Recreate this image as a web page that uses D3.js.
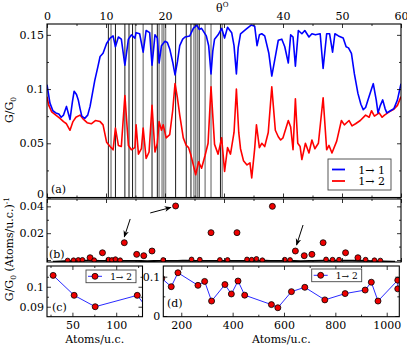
<!DOCTYPE html>
<html>
<head>
<meta charset="utf-8">
<script src="https://cdn.jsdelivr.net/npm/d3@7"></script>
<style>
  body { margin: 0; background: #fff; }
  text { font-family: 'DejaVu Serif', serif; font-size: 11px; fill: #000; }
</style>
</head>
<body>
<div id="graf"></div>
<script>
// I. Datos
// panel (a): conductancia vs angulo
var thetaBlue = [0, 0.5, 1, 1.5, 2, 2.4, 2.8, 3.3, 3.6, 3.9, 4.3, 4.6, 5, 5.3, 5.6, 5.9, 6.4, 6.9, 7.3, 7.7,
  8.1, 8.6, 9, 9.5, 10.1, 10.7, 11.2, 11.6, 12.1, 12.6, 13.2, 13.8, 14.3, 14.9, 15.1, 15.7, 16.3, 16.8, 17.4, 17.8,
  18.3, 18.7, 19, 19.4, 20, 20.4, 20.8, 21.3, 21.7, 22.1, 22.5, 23, 23.4, 24.2, 24.8, 25.4, 25.8, 26.2, 27, 27.4,
  27.8, 28.1, 28.4, 29, 29.6, 30.1, 30.6, 31.3, 31.7, 32.1, 32.4, 32.8, 33.7, 34.6, 35.2, 35.6, 36, 36.4, 36.9, 37.6,
  38.1, 38.7, 39.2, 39.8, 40.3, 40.9, 41.3, 41.7, 42.1, 42.6, 43.2, 43.7, 44.4, 44.9, 45.5, 46.3, 46.8, 47.4, 47.9, 48.4,
  48.8, 49.4, 50.2, 50.7, 51.1, 51.6, 52.1, 52.7, 53.2, 53.6, 54, 54.4, 55, 55.3, 55.8, 56.1, 56.5, 56.9, 57.3, 57.6,
  58.2, 58.8, 59.4, 60]
var gBlue = [0.104, 0.087, 0.080, 0.078, 0.077, 0.074, 0.076, 0.084, 0.078, 0.072, 0.088, 0.098, 0.095, 0.090, 0.082, 0.075, 0.073, 0.076, 0.084, 0.096,
  0.108, 0.120, 0.130, 0.133, 0.142, 0.147, 0.149, 0.139, 0.148, 0.146, 0.122, 0.146, 0.150, 0.147, 0.152, 0.151, 0.134, 0.154, 0.152, 0.122,
  0.150, 0.147, 0.124, 0.140, 0.144, 0.143, 0.137, 0.125, 0.113, 0.125, 0.140, 0.146, 0.148, 0.149, 0.156, 0.159, 0.155, 0.156, 0.149, 0.140,
  0.114, 0.135, 0.146, 0.150, 0.156, 0.147, 0.157, 0.152, 0.140, 0.114, 0.138, 0.151, 0.155, 0.159, 0.158, 0.140, 0.150, 0.151, 0.149, 0.133,
  0.112, 0.130, 0.145, 0.146, 0.139, 0.124, 0.150, 0.148, 0.121, 0.154, 0.151, 0.154, 0.148, 0.151, 0.150, 0.151, 0.119, 0.151, 0.151, 0.134,
  0.151, 0.149, 0.147, 0.139, 0.138, 0.133, 0.114, 0.096, 0.086, 0.081, 0.083, 0.090, 0.100, 0.105, 0.090, 0.078, 0.085, 0.090, 0.082, 0.078,
  0.080, 0.082, 0.090, 0.105]

var thetaRed = [0, 0.3, 0.8, 1.5, 2.2, 2.8, 3.3, 3.9, 4.4, 4.9, 5.6, 6.2, 6.8, 7.5, 8.2, 9, 9.5, 10.1, 10.7, 11.2,
  11.6, 12.1, 12.6, 13.2, 13.8, 14.3, 14.9, 15.1, 15.5, 16, 16.3, 16.8, 17.3, 17.8, 18.3, 18.7, 19, 19.4, 19.7, 20.2,
  20.8, 21.3, 21.7, 22.1, 22.5, 23.1, 23.6, 24, 24.4, 24.8, 25.2, 25.7, 26.2, 26.8, 27.3, 27.8, 28.4, 29, 29.6, 30.1,
  30.6, 31.1, 31.7, 32.1, 32.5, 32.8, 33.3, 33.9, 34.4, 34.7, 35.2, 35.5, 36, 36.4, 36.9, 37.5, 38.1, 38.7, 39.2, 39.6,
  40, 40.9, 41.3, 41.7, 42.1, 42.5, 42.9, 43.2, 43.8, 44.4, 44.9, 45.4, 46, 46.8, 47.4, 47.8, 48.3, 49.1, 49.9, 50.4,
  51.2, 51.7, 52.3, 53.1, 54, 54.6, 55, 55.5, 56.3, 56.8, 57.2, 58, 58.7, 59.4, 60]
var gRed = [0.093, 0.085, 0.079, 0.076, 0.073, 0.070, 0.068, 0.062, 0.070, 0.074, 0.076, 0.072, 0.069, 0.068, 0.071, 0.070, 0.067, 0.051, 0.047, 0.044,
  0.064, 0.048, 0.047, 0.094, 0.048, 0.044, 0.046, 0.067, 0.040, 0.045, 0.064, 0.036, 0.042, 0.085, 0.042, 0.050, 0.070, 0.062, 0.067, 0.055,
  0.058, 0.080, 0.105, 0.092, 0.076, 0.055, 0.048, 0.046, 0.039, 0.030, 0.021, 0.033, 0.027, 0.039, 0.050, 0.102, 0.049, 0.040, 0.055, 0.024,
  0.046, 0.040, 0.060, 0.100, 0.060, 0.045, 0.034, 0.030, 0.032, 0.018, 0.045, 0.067, 0.046, 0.050, 0.047, 0.060, 0.102, 0.062, 0.056, 0.053,
  0.055, 0.071, 0.065, 0.044, 0.091, 0.050, 0.047, 0.035, 0.050, 0.041, 0.053, 0.045, 0.050, 0.092, 0.044, 0.048, 0.041, 0.052, 0.071, 0.067,
  0.071, 0.066, 0.068, 0.071, 0.076, 0.074, 0.080, 0.075, 0.078, 0.074, 0.076, 0.079, 0.081, 0.085, 0.093]

// angulos conmensurables (lineas verticales)
var blackAngles = [10.4, 11.6, 13.2, 13.9, 14.5, 17.8, 18.7, 21.8, 23.6, 24.4, 25.8, 29.4]
var grayAngles = [10.85, 15.0, 16.3, 19.0, 19.5, 19.8, 20.1, 24.9, 25.2, 25.5, 26.8, 27.8, 29.7]

// panel (b): G/G0 por atomo
var dotTheta = [3.5, 4.5, 5.3, 6.0, 7.3, 8.0, 9.4, 10.4, 11.0, 11.6, 12.4, 13.1, 15.2, 16.4, 17.8, 19.7, 21.8,
  24.5, 25.9, 27.8, 29.3, 30.6, 32.2, 33.9, 34.7, 35.5, 36.5, 38.2, 40.3, 41.2, 42.1, 43.6, 44.9, 46.8, 47.3,
  48.4, 49.5, 50.6, 52.7, 54.0, 55.5, 56.5]
var dotG = [-0.0004, -0.0002, 0, 0.0001, 0.0017, -0.0002, 0.0054, 0.0002, 0, 0.0006, -0.0002, 0.0129, 0.0042, 0.0032, 0.0067, 0, 0.0403,
  0.0004, 0.0002, 0.0204, 0, 0, 0.0204, 0.0004, 0.0002, 0.0008, -0.0002, 0.0400, 0.0002, 0, 0.0067, 0.0032, 0.0042, 0.0129, 0.0004,
  0.0002, 0.0002, 0.0054, 0.0017, 0.0002, -0.0002, -0.0004]
var baseTheta = [1, 3, 5, 7, 9, 11, 13, 15, 17, 19, 21, 23, 25, 27, 29, 31, 33, 35, 37, 39, 41, 43, 45, 47, 49, 51, 53, 55, 57, 59]
var baseG = [-0.0012, -0.0009, -0.0006, -0.0004, -0.0007, -0.0005, -0.0008, -0.0006, -0.0009, -0.0006, -0.0008, -0.0005, -0.0006, -0.0008, -0.0006,
  -0.0006, -0.0008, -0.0006, -0.0005, -0.0008, -0.0006, -0.0009, -0.0006, -0.0005, -0.0006, -0.0005, -0.0005, -0.0008, -0.0010, -0.0012]
// flechas [theta0, g0, theta1, g1]
var arrows = [[17.5, 0.0351, 21.0, 0.0392], [14.1, 0.0306, 13.1, 0.0172], [43.4, 0.0261, 42.3, 0.0112]]

// paneles (c) y (d): G/G0 vs atomos por celda
var atoms = [28, 52, 76, 124, 161, 187, 265, 291, 318, 370, 395, 421, 447, 551, 576, 629, 681, 759, 838, 916, 940, 966, 1043, 1043]
var gAtoms = [0.1057, 0.0957, 0.090, 0.0957, 0.0746, 0.110, 0.078, 0.088, 0.038, 0.080, 0.056, 0.089, 0.053, 0.029, 0.021, 0.062,
  0.073, 0.041, 0.057, 0.066, 0.086, 0.038, 0.091, 0.069]

var thetaTicks = [0, 10, 20, 30, 40, 50, 60]
var thetaMinor = [5, 15, 25, 35, 45, 55]

// II. Configuracion
var W = 407, H = 347
var svg = d3.select('#graf').append('svg').attr('width', W).attr('height', H)

var xA = d3.scaleLinear().domain([0, 60]).range([47, 401])
var yA = d3.scaleLinear().domain([0, 0.16]).range([197.5, 24])
var yB = d3.scaleLinear().domain([-0.0015, 0.0455]).range([262, 199])
var xC = d3.scaleLinear().domain([21, 130]).range([47, 142.5])
var yC = d3.scaleLinear().domain([0.085, 0.1104]).range([316.7, 266])
var xD = d3.scaleLinear().domain([130, 1049]).range([163.3, 399.3])
var yD = d3.scaleLinear().domain([-0.0018, 0.1272]).range([316.7, 266])

var noLab = () => ''

function eje(axis, tx, ty) {
  var a = svg.append('g').attr('transform', `translate(${tx},${ty})`).call(axis)
  a.attr('font-family', null).attr('font-size', null)
  a.select('.domain').remove()
  a.selectAll('line').attr('stroke-width', 0.8)
  return a
}

// marco con ticks hacia adentro en los cuatro lados
function marco(x, y, o) {
  var x0 = x.range()[0], x1 = x.range()[1], yb = y.range()[0], yt = y.range()[1]
  eje(d3.axisBottom(x).tickValues(o.xMaj).tickSize(-4).tickPadding(5).tickFormat(o.xFmt || noLab), 0, yb)
  eje(d3.axisBottom(x).tickValues(o.xMin).tickSize(-2).tickFormat(noLab), 0, yb)
  eje(d3.axisTop(x).tickValues(o.xMaj).tickSize(-4).tickPadding(4).tickFormat(o.topFmt || noLab), 0, yt)
  eje(d3.axisTop(x).tickValues(o.xMin).tickSize(-2).tickFormat(noLab), 0, yt)
  var ly = eje(d3.axisLeft(y).tickValues(o.yMaj).tickSize(-4).tickPadding(3).tickFormat(o.yFmt || noLab), x0, 0)
  eje(d3.axisLeft(y).tickValues(o.yMin).tickSize(-2).tickFormat(noLab), x0, 0)
  eje(d3.axisRight(y).tickValues(o.yMaj).tickSize(-4).tickFormat(noLab), x1, 0)
  eje(d3.axisRight(y).tickValues(o.yMin).tickSize(-2).tickFormat(noLab), x1, 0)
  svg.append('rect')
     .attr('x', x0).attr('y', yt)
     .attr('width', x1 - x0).attr('height', yb - yt)
     .attr('fill', 'none').attr('stroke', '#000').attr('stroke-width', 1.1)
  return ly
}

function clip(id, x, y) {
  svg.append('clipPath').attr('id', id).append('rect')
     .attr('x', x.range()[0]).attr('y', y.range()[1])
     .attr('width', x.range()[1] - x.range()[0]).attr('height', y.range()[0] - y.range()[1])
}

svg.append('defs').append('marker')
   .attr('id', 'flecha').attr('viewBox', '0 0 10 10')
   .attr('refX', 9).attr('refY', 5)
   .attr('markerWidth', 7).attr('markerHeight', 7)
   .attr('orient', 'auto')
   .append('path').attr('d', 'M0,1L10,5L0,9L3,5Z').attr('fill', '#000')

// III. Panel (a)
clip('clipA', xA, yA)
var pA = svg.append('g').attr('clip-path', 'url(#clipA)')

pA.selectAll('line.gris').data(grayAngles).enter().append('line')
  .attr('x1', d => xA(d)).attr('x2', d => xA(d))
  .attr('y1', yA.range()[1]).attr('y2', yA.range()[0])
  .attr('stroke', '#8a8a8a').attr('stroke-width', 1.4)
pA.selectAll('line.negra').data(blackAngles).enter().append('line')
  .attr('x1', d => xA(d)).attr('x2', d => xA(d))
  .attr('y1', yA.range()[1]).attr('y2', yA.range()[0])
  .attr('stroke', '#000').attr('stroke-width', 0.9)

var lineaRed = d3.line().x((d, i) => xA(thetaRed[i])).y(d => yA(d))
var lineaBlue = d3.line().x((d, i) => xA(thetaBlue[i])).y(d => yA(d))
pA.append('path').datum(gRed).attr('d', lineaRed)
  .attr('fill', 'none').attr('stroke', '#ff0000').attr('stroke-width', 1.6).attr('stroke-linejoin', 'round')
pA.append('path').datum(gBlue).attr('d', lineaBlue)
  .attr('fill', 'none').attr('stroke', '#0000ff').attr('stroke-width', 1.6).attr('stroke-linejoin', 'round')

var ejeA = marco(xA, yA, {
  xMaj: thetaTicks, xMin: thetaMinor, topFmt: d => d === 30 ? '' : d,
  yMaj: [0, 0.05, 0.1, 0.15], yMin: [0.025, 0.075, 0.125], yFmt: d => d
})
// el "0" se sube un poco para no chocar con el panel (b)
ejeA.selectAll('text').filter(d => d === 0).attr('y', -4)

// leyenda (a)
var leg = svg.append('g').attr('transform', 'translate(328,159)')
leg.append('rect').attr('width', 63).attr('height', 31)
   .attr('fill', '#fff').attr('stroke', '#444').attr('stroke-width', 0.9)
var serA = [['#0000ff', '1\u2192 1'], ['#ff0000', '1\u2192 2']]
serA.forEach((s, i) => {
  leg.append('line').attr('x1', 4).attr('x2', 17).attr('y1', 10.5 + i * 11.5).attr('y2', 10.5 + i * 11.5)
     .attr('stroke', s[0]).attr('stroke-width', 1.8)
  leg.append('text').attr('x', 57).attr('y', 14.5 + i * 11.5).attr('text-anchor', 'end').text(s[1])
})
svg.append('text').attr('x', 51).attr('y', 193).text('(a)')

var tt = svg.append('text').attr('x', 216).attr('y', 12)
tt.append('tspan').text('\u03b8')
tt.append('tspan').attr('dy', -5).style('font-size', '7px').text('O')

var ya = svg.append('text').attr('transform', 'translate(13,110) rotate(-90)').attr('text-anchor', 'middle')
ya.append('tspan').text('G/G')
ya.append('tspan').attr('dy', 2.5).style('font-size', '7.5px').text('0')

// IV. Panel (b)
clip('clipB', xA, yB)
var pB = svg.append('g').attr('clip-path', 'url(#clipB)')
pB.append('path').datum(baseG)
  .attr('d', d3.line().x((d, i) => xA(baseTheta[i])).y(d => yB(d)).curve(d3.curveBasis))
  .attr('fill', 'none').attr('stroke', '#000').attr('stroke-width', 1.8)
pB.selectAll('circle').data(dotG).enter().append('circle')
  .attr('cx', (d, i) => xA(dotTheta[i])).attr('cy', d => yB(d))
  .attr('r', (d) => d < 0.0012 ? 2.4 : 3)
  .attr('fill', '#ee0000').attr('stroke', '#000').attr('stroke-width', 0.8)

marco(xA, yB, {
  xMaj: thetaTicks, xMin: thetaMinor,
  yMaj: [0, 0.02, 0.04], yMin: [0.01, 0.03], yFmt: d => d === 0 ? '' : d3.format('.2f')(d)
})
arrows.forEach(a => {
  svg.append('line')
     .attr('x1', xA(a[0])).attr('y1', yB(a[1]))
     .attr('x2', xA(a[2])).attr('y2', yB(a[3]))
     .attr('stroke', '#000').attr('stroke-width', 1)
     .attr('marker-end', 'url(#flecha)')
})
svg.append('text').attr('x', 49).attr('y', 258).text('(b)')

var yb = svg.append('text').attr('transform', 'translate(13,249) rotate(-90)').attr('text-anchor', 'middle')
yb.append('tspan').text('G/G')
yb.append('tspan').attr('dy', 2.5).style('font-size', '7.5px').text('0')
yb.append('tspan').attr('dy', -2.5).text(' (Atoms/u.c.)')
yb.append('tspan').attr('dy', -4).style('font-size', '7.5px').text('-1')

// V. Paneles (c) y (d)
function panelAtoms(x, y, id, o) {
  clip(id, x, y)
  var p = svg.append('g').attr('clip-path', `url(#${id})`)
  p.append('path').datum(gAtoms)
   .attr('d', d3.line().x((d, i) => x(atoms[i])).y(d => y(d)))
   .attr('fill', 'none').attr('stroke', '#2a2aff').attr('stroke-width', 1)
  p.selectAll('circle').data(gAtoms).enter().append('circle')
   .attr('cx', (d, i) => x(atoms[i])).attr('cy', d => y(d)).attr('r', 3)
   .attr('fill', '#ee0000').attr('stroke', '#000').attr('stroke-width', 0.8)
  marco(x, y, o)
  var l = svg.append('g').attr('transform', `translate(${o.leg[0]},${o.leg[1]})`)
  l.append('rect').attr('width', 50).attr('height', 12.7)
   .attr('fill', '#fff').attr('stroke', '#444').attr('stroke-width', 0.9)
  l.append('line').attr('x1', 2).attr('x2', 16).attr('y1', 6.3).attr('y2', 6.3)
   .attr('stroke', '#2a2aff').attr('stroke-width', 1)
  l.append('circle').attr('cx', 9).attr('cy', 6.3).attr('r', 3)
   .attr('fill', '#ee0000').attr('stroke', '#000').attr('stroke-width', 0.8)
  l.append('text').attr('x', 46).attr('y', 9.8).attr('text-anchor', 'end')
   .style('font-size', '9px').text('1\u2192 2')
  svg.append('text').attr('x', d3.mean(x.range())).attr('y', 343)
     .attr('text-anchor', 'middle').text('Atoms/u.c.')
}

panelAtoms(xC, yC, 'clipC', {
  xMaj: [50, 100], xMin: [25, 75, 125], xFmt: d => d,
  yMaj: [0.09, 0.1], yMin: [0.095, 0.105], yFmt: d => d,
  leg: [86, 270]
})
svg.append('text').attr('x', 52).attr('y', 311).text('(c)')

panelAtoms(xD, yD, 'clipD', {
  xMaj: [200, 400, 600, 800, 1000], xMin: [300, 500, 700, 900], xFmt: d => d,
  yMaj: [0, 0.1], yMin: [0.05], yFmt: d => d,
  leg: [311.7, 269]
})
svg.append('text').attr('x', 167).attr('y', 307).text('(d)')
</script>
</body>
</html>
